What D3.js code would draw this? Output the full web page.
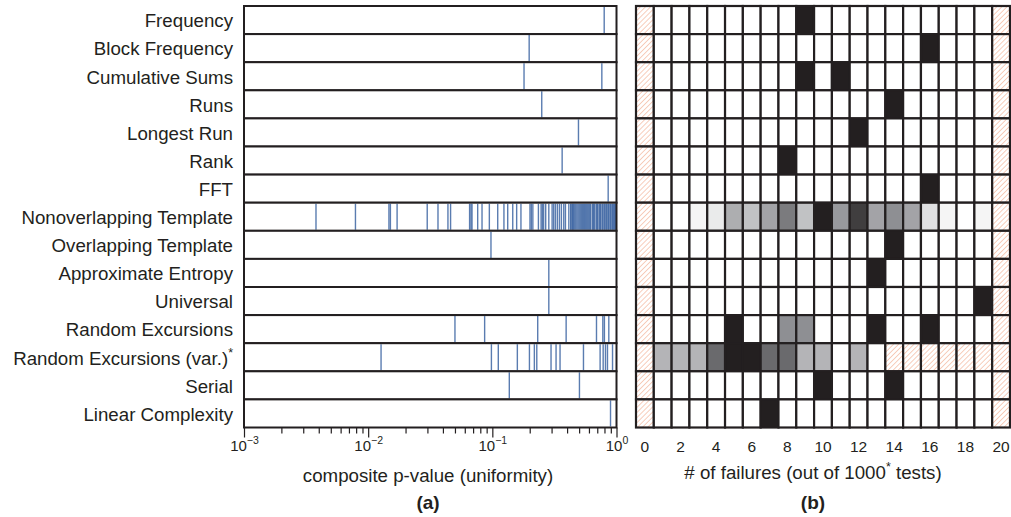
<!DOCTYPE html>
<html>
<head>
<meta charset="utf-8">
<script src="https://cdn.jsdelivr.net/npm/d3@7"></script>
<style>
  html, body { margin: 0; padding: 0; background: #ffffff; }
  svg { display: block; }
  text { font-family: "Liberation Sans", Arial, Helvetica, sans-serif; fill: #231f20; }
</style>
</head>
<body>
<svg id="chart" width="1011" height="517"></svg>
<script>
// ---------------- DATA ----------------
const tests = [
  "Frequency", "Block Frequency", "Cumulative Sums", "Runs", "Longest Run",
  "Rank", "FFT", "Nonoverlapping Template", "Overlapping Template",
  "Approximate Entropy", "Universal", "Random Excursions",
  "Random Excursions (var.)", "Serial", "Linear Complexity"
];

// composite p-values (uniformity) per test
const pFrequency = [0.796];
const pBlockFrequency = [0.198];
const pCumulativeSums = [0.180, 0.762];
const pRuns = [0.250];
const pLongestRun = [0.494];
const pRank = [0.365];
const pFFT = [0.857];
const pNonoverlapping = [
  0.0038, 0.0079, 0.0147, 0.0151, 0.0171, 0.0299, 0.0365, 0.0439, 0.0461,
  0.0656, 0.0673, 0.0686, 0.0762, 0.0826, 0.0946, 0.1105, 0.124, 0.133,
  0.146, 0.157, 0.170, 0.201, 0.206, 0.212, 0.235, 0.247, 0.253, 0.259,
  0.269, 0.285, 0.303, 0.312, 0.322, 0.334, 0.347, 0.360, 0.376, 0.388,
  0.413, 0.428, 0.43, 0.44, 0.445, 0.45, 0.46, 0.47, 0.48, 0.49, 0.50, 0.51,
  0.52, 0.53, 0.54, 0.55, 0.56, 0.57, 0.58, 0.59, 0.60, 0.61, 0.62, 0.64,
  0.65, 0.66, 0.67, 0.69, 0.70, 0.71, 0.73, 0.74, 0.75, 0.77, 0.78, 0.80,
  0.81, 0.83, 0.84, 0.86, 0.87, 0.89, 0.90, 0.92, 0.93, 0.95, 0.96, 0.98, 0.99
];
const pOverlapping = [0.0975];
const pApproxEntropy = [0.285];
const pUniversal = [0.285];
const pRandomExcursions = [0.050, 0.0867, 0.232, 0.393, 0.690, 0.776, 0.799, 0.867];
const pRandomExcursionsVar = [
  0.0127, 0.0983, 0.1117, 0.159, 0.199, 0.218, 0.228, 0.297, 0.326,
  0.351, 0.542, 0.738, 0.781, 0.815, 0.846, 0.929
];
const pSerial = [0.137, 0.503];
const pLinearComplexity = [0.895];

const pValues = [
  pFrequency, pBlockFrequency, pCumulativeSums, pRuns, pLongestRun, pRank,
  pFFT, pNonoverlapping, pOverlapping, pApproxEntropy, pUniversal,
  pRandomExcursions, pRandomExcursionsVar, pSerial, pLinearComplexity
];

// number of failures (0..20) histogram per test
const failureBins = d3.range(0, 21);
const failureCounts = [
  [0,0,0,0,0,0,0,0,0,1,0,0,0,0,0,0,0,0,0,0,0], // Frequency
  [0,0,0,0,0,0,0,0,0,0,0,0,0,0,0,0,1,0,0,0,0], // Block Frequency
  [0,0,0,0,0,0,0,0,0,1,0,1,0,0,0,0,0,0,0,0,0], // Cumulative Sums
  [0,0,0,0,0,0,0,0,0,0,0,0,0,0,1,0,0,0,0,0,0], // Runs
  [0,0,0,0,0,0,0,0,0,0,0,0,1,0,0,0,0,0,0,0,0], // Longest Run
  [0,0,0,0,0,0,0,0,1,0,0,0,0,0,0,0,0,0,0,0,0], // Rank
  [0,0,0,0,0,0,0,0,0,0,0,0,0,0,0,0,1,0,0,0,0], // FFT
  [0,0,0,1,2,8,6,9,13,6,22,10,19,9,11,9,3,1,0,1,0], // Nonoverlapping Template
  [0,0,0,0,0,0,0,0,0,0,0,0,0,0,1,0,0,0,0,0,0], // Overlapping Template
  [0,0,0,0,0,0,0,0,0,0,0,0,0,1,0,0,0,0,0,0,0], // Approximate Entropy
  [0,0,0,0,0,0,0,0,0,0,0,0,0,0,0,0,0,0,0,1,0], // Universal
  [0,0,0,0,0,2,0,0,1,1,0,0,0,2,0,0,2,0,0,0,0], // Random Excursions
  [0,1,1,1,2,3,3,2,2,1,1,0,1,0,0,0,0,0,0,0,0], // Random Excursions (var.)
  [0,0,0,0,0,0,0,0,0,0,1,0,0,0,1,0,0,0,0,0,0], // Serial
  [0,0,0,0,0,0,0,1,0,0,0,0,0,0,0,0,0,0,0,0,0]  // Linear Complexity
];

// hatched (excluded) failure ranges: [test index, first bin, last bin]
const hatchedRanges = [
  [0,0,0],[0,20,20],[1,0,0],[1,20,20],[2,0,0],[2,20,20],[3,0,0],[3,20,20],
  [4,0,0],[4,20,20],[5,0,0],[5,20,20],[6,0,0],[6,20,20],[7,0,0],[7,20,20],
  [8,0,0],[8,20,20],[9,0,0],[9,20,20],[10,0,0],[10,20,20],[11,0,0],[11,20,20],
  [12,0,0],[12,14,20],[13,0,0],[13,20,20],[14,0,0],[14,20,20]
];

const pMajorTicks = [1e-3, 1e-2, 1e-1, 1];
const pMajorExp = ["\u22123", "\u22122", "\u22121", "0"];
const failureTickLabels = [0, 2, 4, 6, 8, 10, 12, 14, 16, 18, 20];

// ---------------- DRAW ----------------
const svg = d3.select("#chart");
const ink = "#231f20";
const blue = "#3d65a2";

const y = d3.scaleBand().domain(d3.range(tests.length)).range([6, 427.5]).padding(0);
const x = d3.scaleLog().domain([1e-3, 1]).range([244, 616.5]);
const xc = d3.scaleBand().domain(failureBins).range([636, 1010]).padding(0);

// hatch pattern
const defs = svg.append("defs");
const pat = defs.append("pattern")
  .attr("id", "hatch").attr("patternUnits", "userSpaceOnUse")
  .attr("width", 3.6).attr("height", 3.6)
  .attr("patternTransform", "rotate(45)");
pat.append("rect").attr("width", 3.6).attr("height", 3.6).attr("fill", "#ffffff");
pat.append("line").attr("x1", 0).attr("y1", 0).attr("x2", 0).attr("y2", 3.6)
  .attr("stroke", "#f3b49a").attr("stroke-width", 1.3);

// ----- Panel (a) -----
const gA = svg.append("g");
const rowsA = gA.selectAll("g.row").data(tests).join("g").attr("class", "row");
rowsA.append("rect")
  .attr("x", x(1e-3)).attr("y", (d, i) => y(i))
  .attr("width", x(1) - x(1e-3)).attr("height", y.bandwidth())
  .attr("fill", "#ffffff");
rowsA.each(function(d, i) {
  d3.select(this).selectAll("line.pv").data(pValues[i]).join("line")
    .attr("class", "pv")
    .attr("x1", v => x(v)).attr("x2", v => x(v))
    .attr("y1", y(i) + 1).attr("y2", y(i) + y.bandwidth() - 1)
    .attr("stroke", blue).attr("stroke-width", 1.4).attr("stroke-opacity", 0.85);
});
rowsA.append("rect")
  .attr("x", x(1e-3)).attr("y", (d, i) => y(i))
  .attr("width", x(1) - x(1e-3)).attr("height", y.bandwidth())
  .attr("fill", "none").attr("stroke", ink).attr("stroke-width", 2);

// row labels
svg.append("g").selectAll("text").data(tests).join("text")
  .attr("x", 233).attr("y", (d, i) => y(i) + y.bandwidth() / 2 + 7.3)
  .attr("text-anchor", "end").attr("font-size", 18.7)
  .each(function(d) {
    const t = d3.select(this);
    if (d === "Random Excursions (var.)") {
      t.append("tspan").text(d);
      t.append("tspan").attr("dy", -8).attr("font-size", 12.5).text("*");
    } else {
      t.text(d);
    }
  });

// x axis (log) - minor + major ticks
const minorTicks = x.ticks().filter(v => !pMajorTicks.some(m => Math.abs(m - v) < 1e-12));
const axisMinor = d3.axisBottom(x).tickValues(minorTicks).tickSize(6).tickFormat("");
const axisMajor = d3.axisBottom(x).tickValues(pMajorTicks).tickSize(10).tickFormat("");
const gMinor = svg.append("g").attr("transform", `translate(0,${y.range()[1]})`).call(axisMinor);
const gMajor = svg.append("g").attr("transform", `translate(0,${y.range()[1]})`).call(axisMajor);
[gMinor, gMajor].forEach(g => {
  g.select(".domain").remove();
  g.selectAll(".tick line").attr("stroke", ink).attr("stroke-width", 1.2);
});
gMajor.selectAll(".tick").each(function(d, i) {
  const t = d3.select(this).append("text")
    .attr("y", 23).attr("text-anchor", "middle").attr("font-size", 15)
    .attr("fill", ink).style("font-family", "'Liberation Sans', Arial, sans-serif");
  t.append("tspan").text("10");
  t.append("tspan").attr("dy", -6.5).attr("font-size", 10.5).text(pMajorExp[i]);
});

svg.append("text").attr("x", 428).attr("y", 482).attr("text-anchor", "middle")
  .attr("font-size", 18.7).text("composite p-value (uniformity)");
svg.append("text").attr("x", 428).attr("y", 509).attr("text-anchor", "middle")
  .attr("font-size", 19).attr("font-weight", "bold").text("(a)");

// ----- Panel (b) -----
const shade = d3.scaleLinear().domain([0, 0.5, 1])
  .range(["#ffffff", "#8e8f93", "#231f20"]).interpolate(d3.interpolateRgb);

const cells = [];
failureCounts.forEach((row, i) => {
  const mx = d3.max(row);
  row.forEach((c, j) => {
    const h = hatchedRanges.some(r => r[0] === i && j >= r[1] && j <= r[2]);
    cells.push({ i, j, c, mx, h });
  });
});
const gB = svg.append("g");
gB.selectAll("rect.cell").data(cells).join("rect")
  .attr("class", "cell")
  .attr("x", d => xc(d.j)).attr("y", d => y(d.i))
  .attr("width", xc.bandwidth()).attr("height", y.bandwidth())
  .attr("fill", d => d.h ? "url(#hatch)" : (d.c > 0 ? shade(d.c / d.mx) : "#ffffff"))
  .attr("stroke", ink).attr("stroke-width", 2.2);

svg.append("g").selectAll("text").data(failureTickLabels).join("text")
  .attr("x", d => xc(d) + xc.bandwidth() / 2).attr("y", 452)
  .attr("text-anchor", "middle").attr("font-size", 15.5).text(d => d);

const tB = svg.append("text").attr("x", 813).attr("y", 479).attr("text-anchor", "middle")
  .attr("font-size", 18.7);
tB.append("tspan").text("# of failures (out of 1000");
tB.append("tspan").attr("dy", -8).attr("font-size", 12.5).text("*");
tB.append("tspan").attr("dy", 8).text(" tests)");
svg.append("text").attr("x", 813).attr("y", 509).attr("text-anchor", "middle")
  .attr("font-size", 19).attr("font-weight", "bold").text("(b)");
</script>
</body>
</html>
